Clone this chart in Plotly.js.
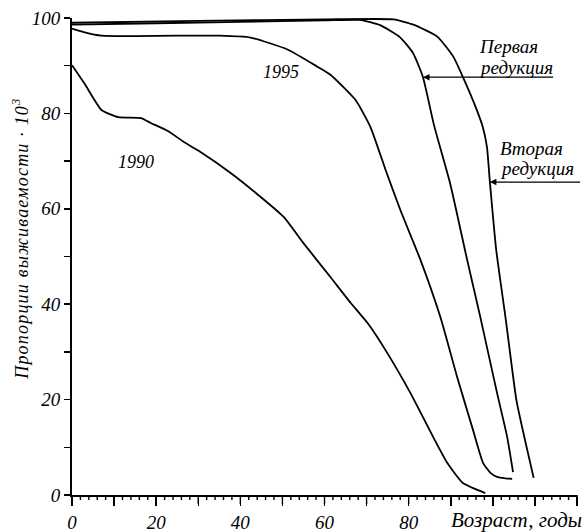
<!DOCTYPE html>
<html>
<head>
<meta charset="utf-8">
<script src="https://cdn.plot.ly/plotly-3.0.1.min.js"></script>
<style>
html,body{margin:0;padding:0;background:#fff;}
#chart{width:582px;height:532px;}
</style>
</head>
<body>
<div id="chart"></div>
<script>
// Age (years) and survival proportions ×10^3 (scaled to 100)
const age1990 = [0, 3, 7, 11, 16.4, 18.7, 22.8, 26.6, 30, 37.7, 44.8, 50.3, 55, 61.4, 66.2, 70.2, 74.9, 80.4, 85.8, 89.2, 92.9, 98.2];
const val1990 = [90.1, 86.2, 80.7, 79.2, 79.0, 78.0, 76.3, 74.0, 72.2, 67.5, 62.5, 58.3, 52.8, 45.7, 40.3, 36.1, 29.8, 21.4, 12.2, 6.7, 2.5, 0.4];

const age1995 = [0, 3, 7, 15, 25, 35, 42.4, 51.2, 58.3, 61.4, 67.3, 70.9, 74.5, 78, 82.8, 87.5, 91.5, 95.3, 97.7, 99.5, 101, 103, 104.6];
const val1995 = [97.8, 97.0, 96.3, 96.2, 96.3, 96.3, 95.9, 93.4, 89.8, 88.1, 82.9, 77.2, 68.2, 59.8, 49.3, 37.4, 24.8, 13.6, 6.7, 4.6, 3.8, 3.5, 3.4];

const ageRed1 = [0, 20, 40, 60, 68.4, 73.2, 77.9, 81, 83.4, 86, 89.8, 93.9, 97, 101, 103.4, 104.8];
const valRed1 = [98.6, 98.9, 99.2, 99.5, 99.6, 98.5, 96.0, 92.7, 87.6, 77.6, 65.5, 49.3, 37.4, 21.4, 12.2, 4.8];

const ageRed2 = [0, 30, 60, 76.4, 81.1, 86.8, 90.6, 92.9, 96.2, 97.6, 98.6, 99.3, 100.8, 103, 105.6, 107.8, 109.7];
const valRed2 = [99.0, 99.4, 99.7, 99.7, 98.6, 96.1, 91.9, 87.6, 80.7, 77.2, 73.0, 65.6, 51.4, 37.3, 19.9, 10.9, 3.6];

const xTickVals = [0, 10, 20, 30, 40, 50, 60, 70, 80, 90, 100, 110, 120];
const xTickText = ['0', '', '20', '', '40', '', '60', '', '80', '', '', '', ''];
const yTickVals = [0, 10, 20, 30, 40, 50, 60, 70, 80, 90, 100];
const yTickText = ['0', '', '20', '', '40', '', '60', '', '80', '', '100'];

const X_MAX = 120;
const FONT = 'Liberation Serif, Times New Roman, serif';
const lineStyle = {color: '#000', width: 1.8, shape: 'spline', smoothing: 0.5};

const traces = [
  {x: age1990, y: val1990, mode: 'lines', line: lineStyle, name: '1990'},
  {x: age1995, y: val1995, mode: 'lines', line: lineStyle, name: '1995'},
  {x: ageRed1, y: valRed1, mode: 'lines', line: lineStyle, name: 'Первая редукция'},
  {x: ageRed2, y: valRed2, mode: 'lines', line: lineStyle, name: 'Вторая редукция'}
];

const PLOT_W = 505, PLOT_H = 477;
const txt = (s) => '<i>' + s + '</i>';
const px = (X) => (X - 72) / PLOT_W;
const py = (Y) => (495 - Y) / PLOT_H;
const label = (X, Y, s, size, xa) => ({xref: 'paper', yref: 'paper', x: px(X), y: py(Y),
  xanchor: xa || 'center', yanchor: 'middle', text: txt(s), showarrow: false, font: {size: size}});

// fine tick marks along the age axis (every 2 years, longer every 10)
const tickShapes = [];
for (let v = 0; v <= X_MAX; v += 2) {
  const len = (v % 10 === 0) ? 9 : 5;
  tickShapes.push({type: 'line', xref: 'paper', yref: 'paper',
    x0: v / X_MAX, x1: v / X_MAX, y0: 0, y1: -len / PLOT_H,
    line: {color: '#000', width: 1.4}});
}

const layout = {
  width: 582, height: 532,
  margin: {l: 72, r: 5, t: 18, b: 37},
  paper_bgcolor: '#fff', plot_bgcolor: '#fff',
  showlegend: false,
  font: {family: FONT, color: '#000', size: 19},
  xaxis: {
    range: [0, X_MAX], showgrid: false, zeroline: false,
    showline: true, linecolor: '#000', linewidth: 2,
    tickmode: 'array', tickvals: xTickVals, ticktext: xTickText,
    ticks: 'outside', ticklen: 9, tickwidth: 1.5, tickcolor: '#000',
    tickfont: {family: FONT, size: 19, style: 'italic'}
  },
  yaxis: {
    range: [0, 100], showgrid: false, zeroline: false,
    showline: true, linecolor: '#000', linewidth: 2,
    tickmode: 'array', tickvals: yTickVals, ticktext: yTickText,
    ticks: 'outside', ticklen: 6, tickwidth: 1.5, tickcolor: '#000',
    tickfont: {family: FONT, size: 19, style: 'italic'}
  },
  shapes: tickShapes,
  annotations: [
    label(136, 162, '1990', 18),
    label(281, 72, '1995', 18),
    label(477, 46, 'Первая', 19, 'left'),
    label(477, 67, 'редукция', 19, 'left'),
    label(498, 148, 'Вторая', 19, 'left'),
    label(498, 169, 'редукция', 19, 'left'),
    // arrows
    {xref: 'x', yref: 'y', axref: 'x', ayref: 'y', x: 83.4, y: 87.6, ax: 114.7, ay: 87.6, text: '', showarrow: true, arrowhead: 2, arrowsize: 1, arrowwidth: 1.3, arrowcolor: '#000'},
    {xref: 'x', yref: 'y', axref: 'x', ayref: 'y', x: 99.3, y: 65.6, ax: 121.1, ay: 65.6, text: '', showarrow: true, arrowhead: 2, arrowsize: 1, arrowwidth: 1.3, arrowcolor: '#000'},
    // axis titles
    label(516, 520, 'Возраст, годы', 21),
    Object.assign(label(20, 239, 'Пропорции выживаемости · 10<sup>3</sup>', 18), {textangle: -90})
  ]
};

Plotly.newPlot('chart', traces, layout, {displayModeBar: false, staticPlot: true}).then(function () {
  document.querySelectorAll('.annotation-text').forEach(function (t) {
    if (t.textContent.indexOf('Пропорции') >= 0) t.style.letterSpacing = '1.2px';
  });
});
</script>
</body>
</html>
